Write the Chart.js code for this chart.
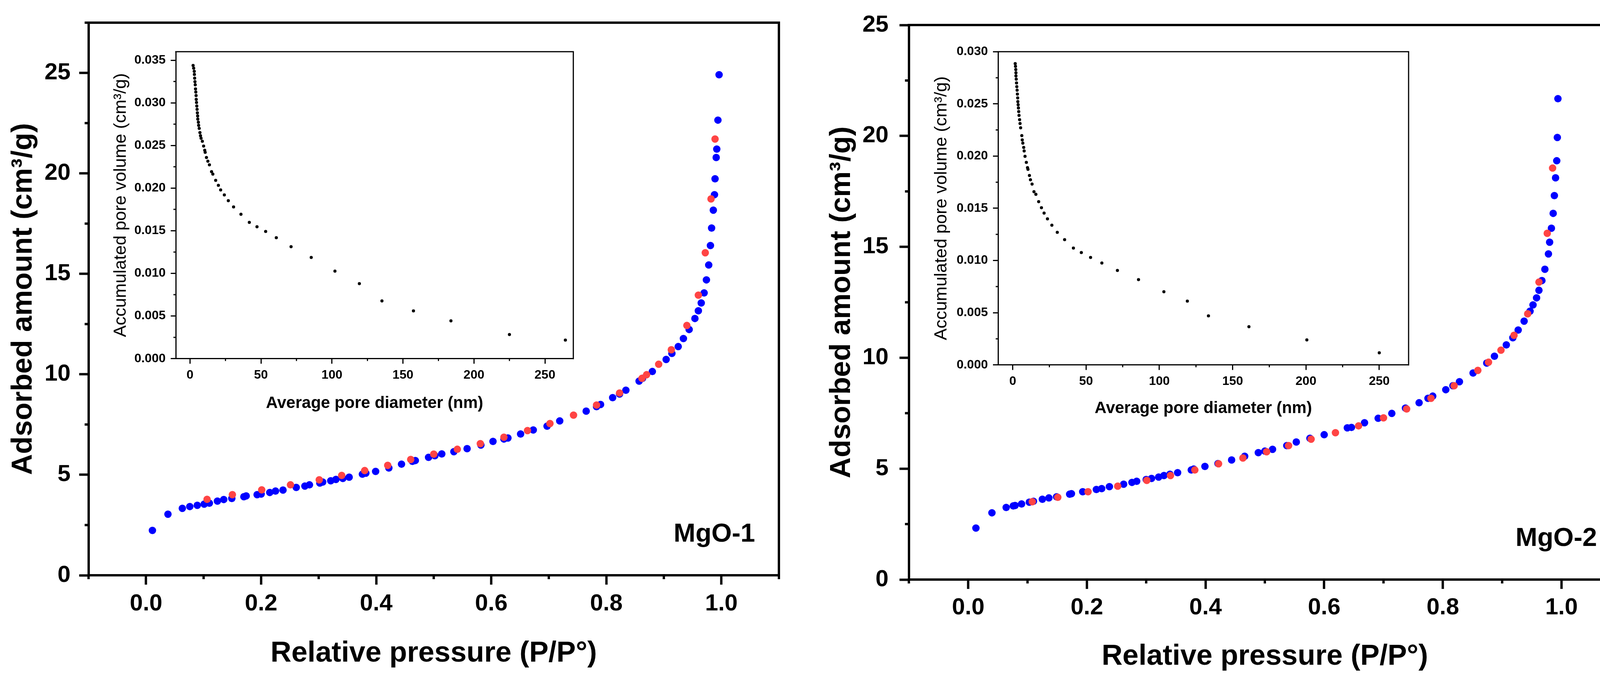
<!DOCTYPE html>
<html>
<head>
<meta charset="utf-8">
<script src="https://cdn.jsdelivr.net/npm/chart.js@4.4.1/dist/chart.umd.min.js"></script>
<style>
  html, body { margin: 0; padding: 0; background: #fff; }
  body { width: 4175px; height: 1740px; position: relative; overflow: hidden; }
  canvas { position: absolute; }
</style>
</head>
<body>
<canvas id="main1" width="2080" height="1740" style="left:0px;top:0px;width:2080px;height:1740px"></canvas>
<canvas id="main2" width="2095" height="1740" style="left:2080px;top:0px;width:2095px;height:1740px"></canvas>
<canvas id="inset1" width="1250" height="1000" style="left:250px;top:100px;width:1250px;height:1000px"></canvas>
<canvas id="inset2" width="1300" height="1000" style="left:2350px;top:100px;width:1300px;height:1000px"></canvas>
<script>
// ---------------- DATA ----------------
// MgO-1 isotherm: adsorption (blue) and desorption (red)
const mgo1AdsP = [0.011,0.038,0.063,0.076,0.089,0.101,0.110,0.124,0.135,0.149,0.170,0.174,0.193,0.200,0.215,0.225,0.238,0.261,0.276,0.284,0.302,0.307,0.321,0.330,0.342,0.353,0.376,0.382,0.399,0.422,0.444,0.463,0.468,0.491,0.502,0.514,0.535,0.558,0.582,0.603,0.622,0.629,0.651,0.673,0.697,0.719,0.765,0.783,0.790,0.811,0.823,0.834,0.857,0.863,0.880,0.904,0.914,0.925,0.934,0.944,0.954,0.960,0.965,0.970,0.974,0.978,0.981,0.983,0.986,0.988,0.989,0.991,0.992,0.994,0.996];
const mgo1AdsV = [2.23,3.04,3.33,3.42,3.48,3.54,3.59,3.69,3.77,3.82,3.91,3.95,4.01,4.04,4.12,4.19,4.24,4.37,4.44,4.50,4.59,4.64,4.70,4.77,4.82,4.88,5.03,5.08,5.17,5.34,5.53,5.67,5.71,5.87,5.95,6.04,6.15,6.30,6.48,6.66,6.78,6.83,7.03,7.23,7.42,7.68,8.17,8.39,8.50,8.84,9.02,9.21,9.66,9.80,10.14,10.74,11.04,11.38,11.78,12.23,12.78,13.16,13.55,14.05,14.70,15.44,16.41,17.28,18.17,18.94,19.73,20.79,21.21,22.65,24.91];
const mgo1DesP = [0.106,0.150,0.201,0.251,0.301,0.340,0.380,0.420,0.460,0.500,0.541,0.581,0.622,0.663,0.702,0.743,0.783,0.823,0.862,0.870,0.891,0.913,0.940,0.960,0.972,0.982,0.989];
const mgo1DesV = [3.78,4.01,4.25,4.50,4.75,4.97,5.21,5.47,5.76,6.03,6.27,6.55,6.87,7.20,7.55,7.97,8.47,9.07,9.80,9.98,10.50,11.22,12.43,13.94,16.05,18.73,21.71];

// MgO-2 isotherm
const mgo2AdsP = [0.013,0.040,0.064,0.076,0.079,0.090,0.103,0.110,0.125,0.136,0.149,0.171,0.174,0.193,0.216,0.225,0.238,0.262,0.276,0.284,0.300,0.309,0.321,0.330,0.340,0.353,0.376,0.380,0.399,0.421,0.444,0.466,0.489,0.500,0.513,0.537,0.553,0.576,0.600,0.639,0.646,0.668,0.691,0.714,0.737,0.760,0.775,0.783,0.805,0.817,0.828,0.851,0.874,0.887,0.907,0.918,0.927,0.937,0.947,0.952,0.958,0.962,0.967,0.972,0.978,0.980,0.983,0.986,0.988,0.990,0.992,0.993,0.994];
const mgo2AdsV = [2.32,3.01,3.25,3.32,3.34,3.41,3.49,3.53,3.62,3.68,3.73,3.85,3.87,3.96,4.06,4.10,4.19,4.30,4.38,4.43,4.51,4.56,4.62,4.69,4.75,4.82,4.94,4.98,5.10,5.23,5.39,5.56,5.72,5.79,5.87,6.04,6.20,6.37,6.53,6.84,6.86,7.07,7.27,7.49,7.73,7.97,8.17,8.27,8.56,8.74,8.92,9.31,9.76,10.07,10.58,10.90,11.25,11.65,12.10,12.38,12.70,13.04,13.48,13.99,14.68,15.21,15.84,16.51,17.31,18.11,18.88,19.93,21.68];
const mgo2DesP = [0.108,0.151,0.202,0.252,0.301,0.341,0.382,0.422,0.463,0.503,0.540,0.578,0.619,0.658,0.700,0.739,0.780,0.819,0.859,0.877,0.898,0.920,0.943,0.962,0.976,0.985];
const mgo2DesV = [3.51,3.71,3.96,4.21,4.47,4.69,4.94,5.22,5.48,5.76,6.04,6.33,6.62,6.93,7.29,7.69,8.17,8.74,9.43,9.80,10.34,11.01,11.98,13.41,15.61,18.55];

// Insets: accumulated pore volume vs average pore diameter
const pore1Diam = [2.2,2.6,3.0,3.1,3.3,3.5,3.7,3.9,4.1,4.3,4.4,4.6,4.8,5.0,5.2,5.4,5.5,5.9,6.1,6.5,7.0,7.4,7.8,8.7,9.6,10.4,10.7,11.6,12.6,13.7,15.2,16.1,18.1,20.0,21.6,24.2,27.0,30.7,35.9,41.8,47.2,53.3,60.8,71.2,85.4,102.1,119.3,135.2,157.4,183.8,225.0,264.4];
const pore1Vol  = [0.03438,0.03406,0.03370,0.03333,0.03289,0.03248,0.03211,0.03163,0.03126,0.03085,0.03041,0.03004,0.02963,0.02924,0.02882,0.02846,0.02809,0.02773,0.02736,0.02700,0.02651,0.02614,0.02585,0.02549,0.02493,0.02444,0.02420,0.02359,0.02315,0.02273,0.02193,0.02164,0.02091,0.02032,0.01979,0.01920,0.01852,0.01779,0.01693,0.01598,0.01547,0.01491,0.01418,0.01313,0.01187,0.01026,0.00880,0.00677,0.00560,0.00443,0.00283,0.00217];
const pore2Diam = [1.7,1.9,2.1,2.2,2.2,2.4,2.6,2.8,3.0,3.2,3.4,3.5,3.7,3.9,4.1,4.3,4.7,5.0,5.4,6.2,6.5,6.9,7.5,7.8,8.4,9.3,10.1,10.4,11.4,12.1,13.2,14.5,15.8,17.7,19.6,21.4,23.7,26.7,30.4,35.4,41.4,46.8,53.1,60.8,71.4,85.8,103.1,119.1,133.5,161.1,200.6,250.0];
const pore2Vol  = [0.02886,0.02859,0.02829,0.02798,0.02768,0.02737,0.02700,0.02665,0.02631,0.02594,0.02557,0.02522,0.02492,0.02461,0.02426,0.02390,0.02349,0.02312,0.02271,0.02196,0.02155,0.02124,0.02083,0.02049,0.01998,0.01940,0.01889,0.01873,0.01814,0.01773,0.01732,0.01659,0.01634,0.01563,0.01505,0.01454,0.01399,0.01338,0.01270,0.01199,0.01119,0.01076,0.01029,0.00976,0.00905,0.00817,0.00701,0.00611,0.00470,0.00366,0.00239,0.00116];

// Tick values
const mainXTicks = [0, 0.2, 0.4, 0.6, 0.8, 1.0];
const mainXMinor = [-0.1, 0.1, 0.3, 0.5, 0.7, 0.9, 1.1];
const mainYTicks = [0, 5, 10, 15, 20, 25];
const main1YMinor = [2.5, 7.5, 12.5, 17.5, 22.5, 27.5];
const main2YMinor = [2.5, 7.5, 12.5, 17.5, 22.5];
const insetXTicks = [0, 50, 100, 150, 200, 250];
const insetXMinor = [25, 75, 125, 175, 225];
const inset1YTicks = [0, 0.005, 0.010, 0.015, 0.020, 0.025, 0.030, 0.035];
const inset1YMinor = [0.0025, 0.0075, 0.0125, 0.0175, 0.0225, 0.0275, 0.0325];
const inset2YTicks = [0, 0.005, 0.010, 0.015, 0.020, 0.025, 0.030];
const inset2YMinor = [0.0025, 0.0075, 0.0125, 0.0175, 0.0225, 0.0275];

const sampleLabels = ['MgO-1', 'MgO-2'];

// ---------------- HELPERS ----------------
const FONT = "'Liberation Sans', Arial, Helvetica, sans-serif";
Chart.defaults.font.family = FONT;
Chart.defaults.color = '#000';

function pts(xs, ys) { return xs.map((x, i) => ({ x: x, y: ys[i] })); }

const framePlugin = {
  id: 'frame',
  beforeDraw(chart, args, o) {
    if (o.fill) {
      const a = chart.chartArea, ctx = chart.ctx;
      ctx.save(); ctx.fillStyle = '#fff';
      ctx.fillRect(a.left, a.top, a.right - a.left, a.bottom - a.top);
      ctx.restore();
    }
  },
  afterDraw(chart, args, o) {
    const ctx = chart.ctx, a = chart.chartArea, sx = chart.scales.x, sy = chart.scales.y;
    ctx.save();
    ctx.strokeStyle = '#000';
    ctx.lineWidth = o.width;
    ctx.lineCap = 'butt';
    ctx.beginPath();
    ctx.moveTo(a.left - o.width / 2, a.top);
    ctx.lineTo(a.right, a.top);
    ctx.lineTo(a.right, a.bottom + o.width / 2);
    ctx.stroke();
    ctx.beginPath();
    for (const v of o.minorX) {
      const px = sx.getPixelForValue(v);
      ctx.moveTo(px, a.bottom); ctx.lineTo(px, a.bottom + o.minorLen);
    }
    for (const v of o.minorY) {
      const py = sy.getPixelForValue(v);
      ctx.moveTo(a.left, py); ctx.lineTo(a.left - o.minorLen, py);
    }
    ctx.stroke();
    if (o.label) {
      ctx.fillStyle = '#000';
      ctx.font = 'bold ' + o.labelSize + 'px ' + FONT;
      ctx.textAlign = 'right';
      ctx.textBaseline = 'alphabetic';
      ctx.fillText(o.label, a.right - o.labelDx, a.bottom - o.labelDy);
    }
    ctx.restore();
  }
};

function mainChart(id, cfg) {
  return new Chart(document.getElementById(id), {
    type: 'scatter',
    data: {
      datasets: [
        { label: 'desorption', data: pts(cfg.desP, cfg.desV), pointRadius: 9.5, pointBackgroundColor: '#FF4444', pointBorderWidth: 0, borderColor: '#FF4444', showLine: false },
        { label: 'adsorption', data: pts(cfg.adsP, cfg.adsV), pointRadius: 9.5, pointBackgroundColor: '#0000FF', pointBorderWidth: 0, borderColor: '#0000FF', showLine: false }
      ]
    },
    plugins: [framePlugin],
    options: {
      responsive: false, animation: false, devicePixelRatio: 1,
      layout: { padding: { left: 0, top: cfg.top, right: cfg.right, bottom: 0 } },
      plugins: {
        legend: { display: false }, tooltip: { enabled: false },
        frame: { width: 6, minorLen: 10, minorX: mainXMinor, minorY: cfg.yMinor, label: cfg.label, labelSize: 67, labelDx: 61, labelDy: 86 }
      },
      scales: {
        x: {
          type: 'linear', min: -0.1, max: 1.1,
          afterBuildTicks: s => { s.ticks = mainXTicks.map(v => ({ value: v })); },
          afterFit: s => { s.height = cfg.xH; },
          ticks: { font: { size: 60, weight: 'bold' }, color: '#000', padding: cfg.xPad, maxRotation: 0, autoSkip: false, callback: v => Number(v).toFixed(1) },
          grid: { display: true, drawOnChartArea: false, drawTicks: true, tickLength: 24, tickWidth: 6, tickColor: '#000' },
          border: { display: true, width: 6, color: '#000' },
          title: { display: true, text: 'Relative pressure (P/P°)', font: { size: 74, weight: 'bold' }, color: '#000', padding: { top: 0, bottom: cfg.xTitlePad } }
        },
        y: {
          type: 'linear', min: 0, max: cfg.yMax,
          afterBuildTicks: s => { s.ticks = mainYTicks.map(v => ({ value: v })); },
          afterFit: s => { s.width = cfg.yW; },
          ticks: { font: { size: 60, weight: 'bold' }, color: '#000', padding: cfg.yPad, autoSkip: false, callback: v => String(v) },
          grid: { display: true, drawOnChartArea: false, drawTicks: true, tickLength: 24, tickWidth: 6, tickColor: '#000' },
          border: { display: true, width: 6, color: '#000' },
          title: { display: true, text: 'Adsorbed amount (cm³/g)', font: { size: 74, weight: 'bold' }, color: '#000', padding: { top: cfg.yTitlePad, bottom: 0 } }
        }
      }
    }
  });
}

function insetChart(id, cfg) {
  return new Chart(document.getElementById(id), {
    type: 'scatter',
    data: {
      datasets: [
        { label: 'pore volume', data: pts(cfg.xs, cfg.ys), pointRadius: 4, pointBackgroundColor: '#000', pointBorderWidth: 0, borderColor: '#000', showLine: false }
      ]
    },
    plugins: [framePlugin],
    options: {
      responsive: false, animation: false, devicePixelRatio: 1,
      layout: { padding: { left: 0, top: cfg.top, right: cfg.right, bottom: 0 } },
      plugins: {
        legend: { display: false }, tooltip: { enabled: false },
        frame: { width: 3, minorLen: 6, minorX: insetXMinor, minorY: cfg.yMinor, fill: true }
      },
      scales: {
        x: {
          type: 'linear', min: -10, max: 270,
          afterBuildTicks: s => { s.ticks = insetXTicks.map(v => ({ value: v })); },
          afterFit: s => { s.height = cfg.xH; },
          ticks: { font: { size: 32, weight: 'bold' }, color: '#000', padding: 10, maxRotation: 0, autoSkip: false, callback: v => String(v) },
          grid: { display: true, drawOnChartArea: false, drawTicks: true, tickLength: 13, tickWidth: 3, tickColor: '#000' },
          border: { display: true, width: 3, color: '#000' },
          title: { display: true, text: 'Average pore diameter (nm)', font: { size: 42, weight: 'bold' }, color: '#000', padding: { top: 0, bottom: cfg.xTitlePad } }
        },
        y: {
          type: 'linear', min: 0, max: cfg.yMax,
          afterBuildTicks: s => { s.ticks = cfg.yTicks.map(v => ({ value: v })); },
          afterFit: s => { s.width = cfg.yW; },
          ticks: { font: { size: 32, weight: 'bold' }, color: '#000', padding: 13, autoSkip: false, callback: v => Number(v).toFixed(3) },
          grid: { display: true, drawOnChartArea: false, drawTicks: true, tickLength: 13, tickWidth: 3, tickColor: '#000' },
          border: { display: true, width: 3, color: '#000' },
          title: { display: true, text: 'Accumulated pore volume (cm³/g)', font: { size: 45, weight: 'normal' }, color: '#000', padding: { top: cfg.yTitlePad, bottom: 0 } }
        }
      }
    }
  });
}

// ---------------- CHARTS ----------------
mainChart('main1', {
  adsP: mgo1AdsP, adsV: mgo1AdsV, desP: mgo1DesP, desV: mgo1DesV,
  yMax: 27.5, yMinor: main1YMinor, label: sampleLabels[0],
  top: 54.5, right: 86, xH: 268, yW: 226.7, xPad: 13, yPad: 22, xTitlePad: 23, yTitlePad: 16
});
mainChart('main2', {
  adsP: mgo2AdsP, adsV: mgo2AdsV, desP: mgo2DesP, desV: mgo2DesV,
  yMax: 25, yMinor: main2YMinor, label: sampleLabels[1],
  top: 54.3, right: 25.7, xH: 257, yW: 246.7, xPad: 12, yPad: 28, xTitlePad: 15, yTitlePad: 31
});
insetChart('inset1', {
  xs: pore1Diam, ys: pore1Vol, yMax: 0.036, yTicks: inset1YTicks, yMinor: inset1YMinor,
  top: 17.3, right: 32.3, xH: 182.3, yW: 200, xTitlePad: 42, yTitlePad: 33
});
insetChart('inset2', {
  xs: pore2Diam, ys: pore2Vol, yMax: 0.030, yTicks: inset2YTicks, yMinor: inset2YMinor,
  top: 26.7, right: 44, xH: 166.3, yW: 205, xTitlePad: 29, yTitlePad: 34
});
</script>
</body>
</html>
